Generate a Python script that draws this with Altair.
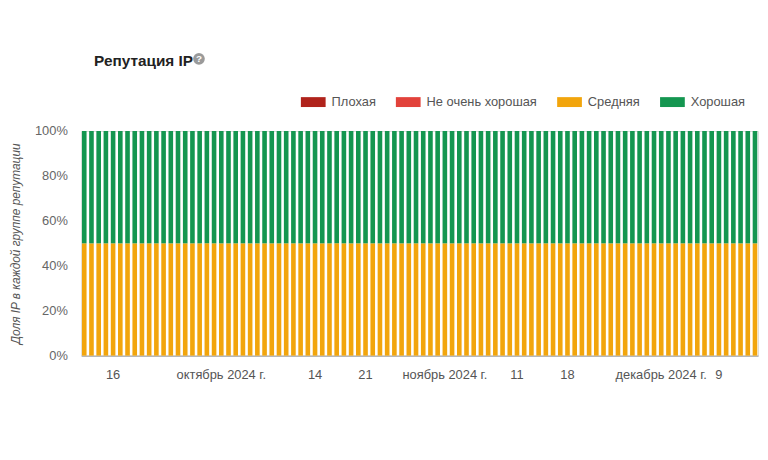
import altair as alt
import pandas as pd

# ---- data ----
start_date = "2024-09-12"
end_date = "2024-12-14"
dates = [d.strftime("%Y-%m-%d") for d in pd.date_range(start_date, end_date, freq="D")]
share_medium = [50] * len(dates)   # "Средняя"
share_good = [50] * len(dates)     # "Хорошая"

categories = ["Плохая", "Не очень хорошая", "Средняя", "Хорошая"]
colors = ["#b0231b", "#e2423b", "#f2a50c", "#149650"]

tick_dates = ["2024-09-16", "2024-10-01", "2024-10-14", "2024-10-21",
              "2024-11-01", "2024-11-11", "2024-11-18", "2024-12-01", "2024-12-09"]
tick_labels = ["16", "октябрь 2024 г.", "14", "21", "ноябрь 2024 г.",
               "11", "18", "декабрь 2024 г.", "9"]

rows = []
for d, m, g in zip(dates, share_medium, share_good):
    rows.append({"date": d, "cat": "Средняя", "value": m, "ord": 0})
    rows.append({"date": d, "cat": "Хорошая", "value": g, "ord": 1})
df = pd.DataFrame(rows)

label_expr = ""
for v, l in zip(tick_dates, tick_labels):
    label_expr += f"datum.value == '{v}' ? '{l}' : "
label_expr += "''"

FONT = "Liberation Sans"

bars = alt.Chart(df).mark_bar().encode(
    x=alt.X("date:O", sort=dates,
            scale=alt.Scale(domain=dates, paddingInner=0.36, paddingOuter=0.1),
            axis=alt.Axis(values=tick_dates, labelExpr=label_expr, title=None,
                          labelAngle=0, ticks=False, domainColor="#999999",
                          labelColor="#555555", labelFontSize=13, labelPadding=13,
                          labelFont=FONT, labelOverlap=False)),
    y=alt.Y("value:Q", stack="normalize",
            scale=alt.Scale(domain=[0, 1]),
            axis=alt.Axis(format="%", values=[0, 0.2, 0.4, 0.6, 0.8, 1.0],
                          title="Доля IP в каждой группе репутации",
                          titleFontStyle="italic", titleFontWeight="normal",
                          titleColor="#555555", titleFontSize=12, titleFont=FONT,
                          titlePadding=12, grid=False, ticks=False, domain=False,
                          labelColor="#666666", labelFontSize=13, labelPadding=14,
                          labelFont=FONT)),
    color=alt.Color("cat:N",
                    scale=alt.Scale(domain=categories, range=colors),
                    legend=alt.Legend(orient="none", legendX=222, legendY=-42,
                                      direction="horizontal", title=None,
                                      symbolType="M-1,-0.4L1,-0.4L1,0.4L-1,0.4Z",
                                      symbolSize=625, symbolStrokeWidth=0,
                                      symbolOpacity=1,
                                      labelFontSize=13, labelColor="#555555",
                                      labelFont=FONT, columnPadding=20,
                                      symbolOffset=0, labelOffset=6)),
    order=alt.Order("ord:Q"),
)

title = alt.Chart(pd.DataFrame({"t": ["Репутация IP"]})).mark_text(
    align="left", baseline="middle", fontSize=15.5, fontWeight="bold",
    font=FONT, color="#222222"
).encode(x=alt.value(13), y=alt.value(-71), text="t:N")

icon = alt.Chart(pd.DataFrame({"t": ["?"]})).mark_point(
    filled=True, shape="circle", size=140, color="#9a9a9a", opacity=1
).encode(x=alt.value(119), y=alt.value(-73))

icon_q = alt.Chart(pd.DataFrame({"t": ["?"]})).mark_text(
    align="center", baseline="middle", fontSize=10, fontWeight="bold",
    font=FONT, color="white"
).encode(x=alt.value(119), y=alt.value(-72.5), text="t:N")

chart = alt.layer(bars, title, icon, icon_q).properties(
    width=684, height=227,
    autosize=alt.AutoSizeParams(type="none"),
    padding={"left": 74, "top": 122, "right": 2, "bottom": 90},
).configure_view(stroke=None).configure(background="white")

chart.save("out.html", embed_options={"renderer": "svg", "actions": False})
